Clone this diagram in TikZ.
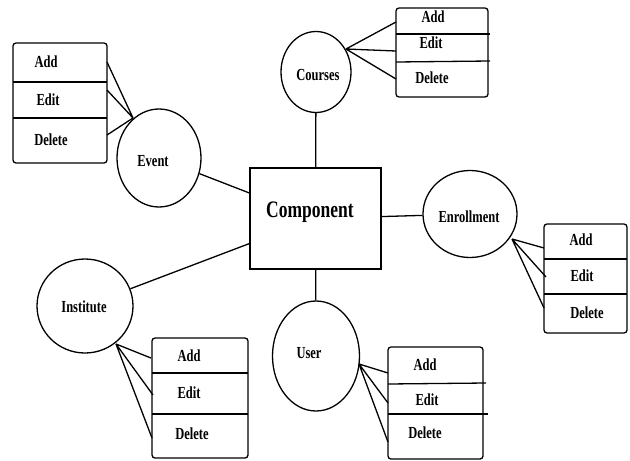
\documentclass[tikz,border=0pt]{standalone}
\usepackage{fontspec}
\usepackage{graphicx}
\setmainfont{Liberation Serif}
\usetikzlibrary{shapes.geometric}
\newcommand\tallt[1]{\scalebox{1}[1.35]{#1}}
\begin{document}
\begin{tikzpicture}[x=1pt,y=-1pt,
  ent/.style={draw, ellipse, line width=1.3pt, inner sep=0pt},
  tbl/.style={draw, rounded corners=3pt, line width=1.3pt, inner sep=0pt, outer sep=0pt},
  lbl/.style={inner sep=0pt, font=\fontsize{12.5}{14}\selectfont\bfseries},
  ln/.style={line width=1.3pt}]
\useasboundingbox (0,0) rectangle (630,461);
% central box
\node[draw, line width=1.3pt, minimum width=131pt, minimum height=101pt, inner sep=0pt] (comp) at (315.5,218.5) {};
\node[inner sep=0pt, font=\fontsize{17.5}{20}\selectfont\bfseries] (compt) at (310,212) {\tallt{Component}};
% entities
\node[ent, minimum width=84pt, minimum height=98pt] (event) at (159,158) {};
\node[lbl] (eventt) at (153,161) {\tallt{Event}};
\node[ent, minimum width=70pt, minimum height=81pt] (courses) at (316,72) {};
\node[lbl] (coursest) at (318,75) {\tallt{Courses}};
\node[ent, minimum width=94pt, minimum height=87pt] (enr) at (470,214) {};
\node[lbl] (enrt) at (469,217) {\tallt{Enrollment}};
\node[ent, minimum width=96pt, minimum height=94pt] (inst) at (85,306) {};
\node[lbl] (instt) at (84,307) {\tallt{Institute}};
\node[ent, minimum width=87pt, minimum height=110pt] (user) at (316,356) {};
\node[lbl] (usert) at (309,353) {\tallt{User}};
% connectors to component
\draw[ln] (event) -- (comp);
\draw[ln] (courses) -- (comp);
\draw[ln] (enr) -- (comp);
\draw[ln] (inst) -- (comp);
\draw[ln] (user) -- (comp);

% ---------- Event table
\node[tbl, minimum width=94pt, minimum height=120pt] (evtb) at (60,103) {};
\draw[ln] (13,82) coordinate (evd1a) -- (107,82) coordinate (evd1b);
\draw[ln] (13,118) coordinate (evd2a) -- (107,118) coordinate (evd2b);
\node[lbl] (eva) at (46,62) {\tallt{Add}};
\node[lbl] (eve) at (48,100) {\tallt{Edit}};
\node[lbl] (evx) at (51,140) {\tallt{Delete}};
\coordinate (evc) at (133,118);
\coordinate (evp1) at (107,62);
\coordinate (evp2) at (107,90);
\coordinate (evp3) at (107,135);
\draw[ln] (evc) -- (evp1) (evc) -- (evp2) (evc) -- (evp3);

% ---------- Courses table
\node[tbl, minimum width=92pt, minimum height=89pt] (cotb) at (442,52.5) {};
\draw[ln] (396,34) coordinate (cod1a) -- (490,34) coordinate (cod1b);
\draw[ln] (396,62) coordinate (cod2a) -- (490,61) coordinate (cod2b);
\node[lbl] (coa) at (433,17) {\tallt{Add}};
\node[lbl] (coe) at (431,43) {\tallt{Edit}};
\node[lbl] (cox) at (432,78) {\tallt{Delete}};
\coordinate (coc) at (346,49);
\coordinate (cop1) at (396,22);
\coordinate (cop2) at (396,51);
\coordinate (cop3) at (396,79);
\draw[ln] (coc) -- (cop1) (coc) -- (cop2) (coc) -- (cop3);

% ---------- Enrollment table
\node[tbl, minimum width=83pt, minimum height=109pt] (entb) at (585.5,278.5) {};
\draw[ln] (544,259) coordinate (end1a) -- (627,259) coordinate (end1b);
\draw[ln] (544,294) coordinate (end2a) -- (627,294) coordinate (end2b);
\node[lbl] (ena) at (581,240) {\tallt{Add}};
\node[lbl] (ene) at (582,276) {\tallt{Edit}};
\node[lbl] (enx) at (587,313) {\tallt{Delete}};
\coordinate (enc) at (512,239);
\coordinate (enp1) at (544,248);
\coordinate (enp2) at (546,277);
\coordinate (enp3) at (544,308);
\draw[ln] (enc) -- (enp1) (enc) -- (enp2) (enc) -- (enp3);

% ---------- Institute table
\node[tbl, minimum width=96pt, minimum height=120pt] (intb) at (200,398) {};
\draw[ln] (152,373) coordinate (ind1a) -- (248,373) coordinate (ind1b);
\draw[ln] (152,414) coordinate (ind2a) -- (248,414) coordinate (ind2b);
\node[lbl] (ina) at (189,356) {\tallt{Add}};
\node[lbl] (ine) at (189,393) {\tallt{Edit}};
\node[lbl] (inx) at (192,434) {\tallt{Delete}};
\coordinate (inc) at (116,344);
\coordinate (inp1) at (151,358);
\coordinate (inp2) at (153,395);
\coordinate (inp3) at (152,438);
\draw[ln] (inc) -- (inp1) (inc) -- (inp2) (inc) -- (inp3);

% ---------- User table
\node[tbl, minimum width=95pt, minimum height=112pt] (ustb) at (435.5,403) {};
\draw[ln] (388,384) coordinate (usd1a) -- (486,383) coordinate (usd1b);
\draw[ln] (388,414) coordinate (usd2a) -- (488,414) coordinate (usd2b);
\node[lbl] (usa) at (425,365) {\tallt{Add}};
\node[lbl] (use) at (427,400) {\tallt{Edit}};
\node[lbl] (usx) at (425,433) {\tallt{Delete}};
\coordinate (usc) at (359,364);
\coordinate (usp1) at (388,373);
\coordinate (usp2) at (388,403);
\coordinate (usp3) at (388,442);
\draw[ln] (usc) -- (usp1) (usc) -- (usp2) (usc) -- (usp3);
\end{tikzpicture}
\end{document}
